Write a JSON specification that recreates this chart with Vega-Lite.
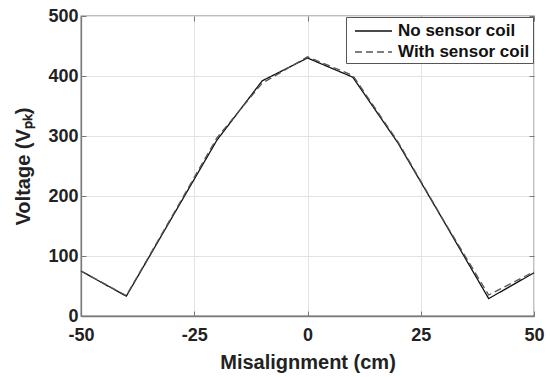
{
  "$schema": "https://vega.github.io/schema/vega-lite/v6.json",
  "width": 453,
  "height": 300,
  "autosize": {"type": "none"},
  "padding": {"left": 81, "top": 16, "right": 16, "bottom": 61},
  "background": "white",
  "config": {
    "font": "Liberation Sans",
    "view": {"stroke": "#7a7a7a", "strokeWidth": 1.3},
    "axis": {
      "labelFont": "Liberation Sans",
      "labelFontWeight": "bold",
      "labelFontSize": 18,
      "labelColor": "#222222",
      "titleFont": "Liberation Sans",
      "titleFontWeight": "bold",
      "titleFontSize": 20,
      "titleColor": "#222222",
      "domainColor": "#7a7a7a",
      "domainWidth": 1.3,
      "tickColor": "#7a7a7a",
      "gridColor": "#e3e3e3",
      "gridWidth": 1
    },
    "legend": {
      "title": null,
      "orient": "top-right",
      "offset": 1,
      "strokeColor": "#555555",
      "fillColor": "white",
      "padding": 3,
      "symbolType": "M-0.5,0H3.2",
      "symbolSize": 400,
      "symbolStrokeWidth": 1.3,
      "labelFont": "Liberation Sans",
      "labelFontWeight": "bold",
      "labelFontSize": 17,
      "labelColor": "#111111",
      "labelOffset": 27,
      "rowPadding": 2,
      "labelLimit": 300
    }
  },
  "data": {
    "values": [
      {"x": -50, "v": 75, "series": "No sensor coil"},
      {"x": -40, "v": 33, "series": "No sensor coil"},
      {"x": -30, "v": 163, "series": "No sensor coil"},
      {"x": -20, "v": 293, "series": "No sensor coil"},
      {"x": -10, "v": 392, "series": "No sensor coil"},
      {"x": 0, "v": 430, "series": "No sensor coil"},
      {"x": 10, "v": 398, "series": "No sensor coil"},
      {"x": 20, "v": 288, "series": "No sensor coil"},
      {"x": 30, "v": 159, "series": "No sensor coil"},
      {"x": 40, "v": 29, "series": "No sensor coil"},
      {"x": 50, "v": 72, "series": "No sensor coil"},
      {"x": -50, "v": 75, "series": "With sensor coil"},
      {"x": -40, "v": 34, "series": "With sensor coil"},
      {"x": -30, "v": 165, "series": "With sensor coil"},
      {"x": -20, "v": 297, "series": "With sensor coil"},
      {"x": -10, "v": 388, "series": "With sensor coil"},
      {"x": 0, "v": 432, "series": "With sensor coil"},
      {"x": 10, "v": 401, "series": "With sensor coil"},
      {"x": 20, "v": 290, "series": "With sensor coil"},
      {"x": 30, "v": 160, "series": "With sensor coil"},
      {"x": 40, "v": 35, "series": "With sensor coil"},
      {"x": 50, "v": 74, "series": "With sensor coil"}
    ]
  },
  "resolve": {"axis": {"x": "independent", "y": "independent"}},
  "layer": [
    {
      "mark": {"type": "line", "strokeWidth": 1.3},
      "encoding": {
        "x": {
          "field": "x", "type": "quantitative",
          "scale": {"domain": [-50, 50], "nice": false},
          "axis": {"values": [-50, -25, 0, 25, 50], "title": "Misalignment (cm)", "tickSize": -5, "labelPadding": 15, "titlePadding": 8, "labelFlush": false, "labelExpr": "toString(datum.value)"}
        },
        "y": {
          "field": "v", "type": "quantitative",
          "scale": {"domain": [0, 500], "nice": false},
          "axis": {"values": [0, 100, 200, 300, 400, 500], "title": "Voltage (Vₚₖ)", "tickSize": -5, "labelPadding": 8, "titlePadding": 14}
        },
        "color": {
          "field": "series", "type": "nominal",
          "scale": {"domain": ["No sensor coil", "With sensor coil"], "range": ["#111111", "#555555"]}
        },
        "strokeDash": {
          "field": "series", "type": "nominal",
          "scale": {"domain": ["No sensor coil", "With sensor coil"], "range": [[1, 0], [7, 4]]}
        }
      }
    },
    {
      "mark": {"type": "line", "opacity": 0},
      "encoding": {
        "x": {
          "field": "x", "type": "quantitative",
          "axis": {"orient": "top", "values": [-50, -25, 0, 25, 50], "labels": false, "grid": false, "domain": false, "tickSize": -5, "title": null}
        },
        "y": {
          "field": "v", "type": "quantitative",
          "axis": {"orient": "right", "values": [0, 100, 200, 300, 400, 500], "labels": false, "grid": false, "domain": false, "tickSize": -5, "title": null}
        }
      }
    }
  ]
}
